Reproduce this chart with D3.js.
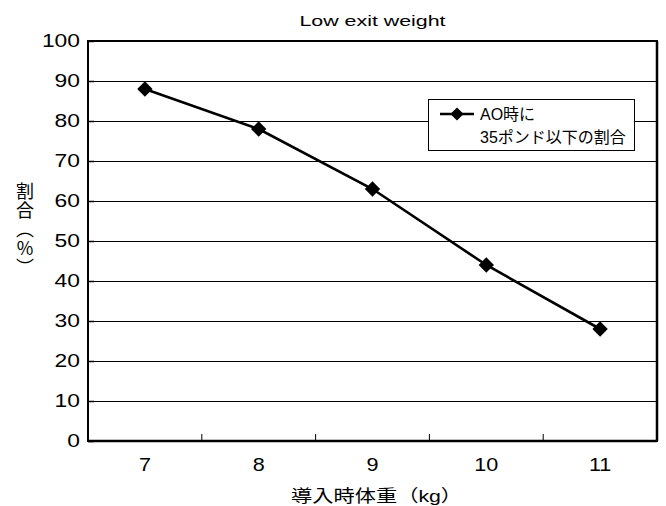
<!DOCTYPE html>
<html lang="ja">
<head>
<meta charset="UTF-8">
<title>Low exit weight</title>
<script src="https://d3js.org/d3.v7.min.js"></script>
<style>
  body { margin: 0; background: #fff; }
  svg text { font-family: "Liberation Sans", Arial, "Noto Sans CJK JP", sans-serif; fill: #000; }
</style>
</head>
<body>
<div id="chart"></div>
<script>
// data
var weights = ["7", "8", "9", "10", "11"];
var shares = [88, 78, 63, 44, 28];
var yTicks = [0, 10, 20, 30, 40, 50, 60, 70, 80, 90, 100];
var seriesName = ["AO時に", "35ポンド以下の割合"];

var W = 666, H = 506,
    margin = {top: 41, right: 9, bottom: 65, left: 88},
    width = W - margin.left - margin.right,
    height = H - margin.top - margin.bottom;

var svg = d3.select("#chart").append("svg")
    .attr("width", W).attr("height", H);

var g = svg.append("g")
    .attr("transform", "translate(" + margin.left + "," + margin.top + ")");

var x = d3.scaleBand().domain(weights).range([0, width]);
var y = d3.scaleLinear().domain([0, 100]).range([height, 0]);

// the reference text is drawn wide, so stretch it horizontally
function wide(sel, sx) {
    sel.attr("transform", function() {
        var t = d3.select(this).attr("transform") || "";
        return t + " scale(" + sx + ",1)";
    });
}

// gridlines
g.append("g").selectAll("line")
    .data(yTicks.filter(d => d > 0 && d < 100)).enter().append("line")
    .attr("x1", 0).attr("x2", width)
    .attr("y1", d => y(d)).attr("y2", d => y(d))
    .attr("stroke", "#000").attr("stroke-width", 1)
    .attr("shape-rendering", "crispEdges");

// plot frame
g.append("rect")
    .attr("x", 0).attr("y", 0).attr("width", width).attr("height", height)
    .attr("fill", "none").attr("stroke", "#000").attr("stroke-width", 1.5)
    .attr("shape-rendering", "crispEdges");
g.append("line").attr("x1", width).attr("x2", width).attr("y1", 0).attr("y2", height)
    .attr("stroke", "#000").attr("stroke-width", 2.5);
g.append("line").attr("x1", 0).attr("x2", width).attr("y1", height).attr("y2", height)
    .attr("stroke", "#000").attr("stroke-width", 2.5);

// y axis labels + inward ticks
var ySx = 1.27;
var yAxis = g.append("g").call(d3.axisLeft(y).tickValues(yTicks).tickSize(-6).tickPadding(0));
yAxis.select(".domain").remove();
yAxis.selectAll("text").style("font-size", "18px").attr("x", -8 / ySx).call(wide, ySx);
yAxis.selectAll("line").attr("stroke-width", 1.5);

// x axis: category labels, inner ticks at band boundaries
var xAxis = g.append("g").attr("transform", "translate(0," + height + ")")
    .call(d3.axisBottom(x).tickSize(0).tickPadding(17));
xAxis.select(".domain").remove();
xAxis.selectAll("text").style("font-size", "18px").call(wide, 1.2);
g.append("g").selectAll("line")
    .data(weights.slice(1)).enter().append("line")
    .attr("x1", d => x(d)).attr("x2", d => x(d))
    .attr("y1", height).attr("y2", height - 7)
    .attr("stroke", "#000").attr("stroke-width", 1);

// series line
var pts = weights.map((w, i) => [x(w) + x.bandwidth() / 2, y(shares[i])]);
g.append("path")
    .datum(pts)
    .attr("d", d3.line())
    .attr("fill", "none").attr("stroke", "#000").attr("stroke-width", 2.6);

var diamond = d3.symbol().type(d3.symbolDiamond2).size(150);
g.append("g").selectAll("path")
    .data(pts).enter().append("path")
    .attr("transform", d => "translate(" + d[0] + "," + d[1] + ")")
    .attr("d", diamond)
    .attr("fill", "#000");

// title
svg.append("text")
    .attr("transform", "translate(" + (margin.left + width / 2) + ",26) scale(1.38,1)")
    .attr("text-anchor", "middle")
    .style("font-size", "15.5px")
    .text("Low exit weight");

// x axis title
svg.append("text")
    .attr("transform", "translate(" + (margin.left + width / 2 + 4) + ",502) scale(1.25,1)")
    .attr("text-anchor", "middle")
    .style("font-size", "17px")
    .text("導入時体重（kg）");

// y axis title (vertical)
svg.append("text")
    .attr("x", 25).attr("y", 230)
    .attr("text-anchor", "middle")
    .style("writing-mode", "vertical-rl")
    .style("text-orientation", "upright")
    .style("letter-spacing", "1px")
    .style("font-size", "18px")
    .style("font-family", "'Noto Sans CJK JP', sans-serif")
    .text("割合（%）");

// legend
var lg = svg.append("g").attr("transform", "translate(428,99)");
lg.append("rect")
    .attr("width", 206).attr("height", 51)
    .attr("fill", "#fff").attr("stroke", "#000").attr("stroke-width", 1)
    .attr("shape-rendering", "crispEdges");
lg.append("line")
    .attr("x1", 12).attr("x2", 46).attr("y1", 15).attr("y2", 15)
    .attr("stroke", "#000").attr("stroke-width", 2.6);
lg.append("path")
    .attr("transform", "translate(29,15)")
    .attr("d", d3.symbol().type(d3.symbolDiamond2).size(110))
    .attr("fill", "#000");
lg.selectAll("text.lbl")
    .data(seriesName).enter().append("text")
    .attr("class", "lbl")
    .attr("x", 52)
    .attr("y", (d, i) => 21 + i * 23)
    .style("font-size", "16px")
    .text(d => d);
</script>
</body>
</html>
